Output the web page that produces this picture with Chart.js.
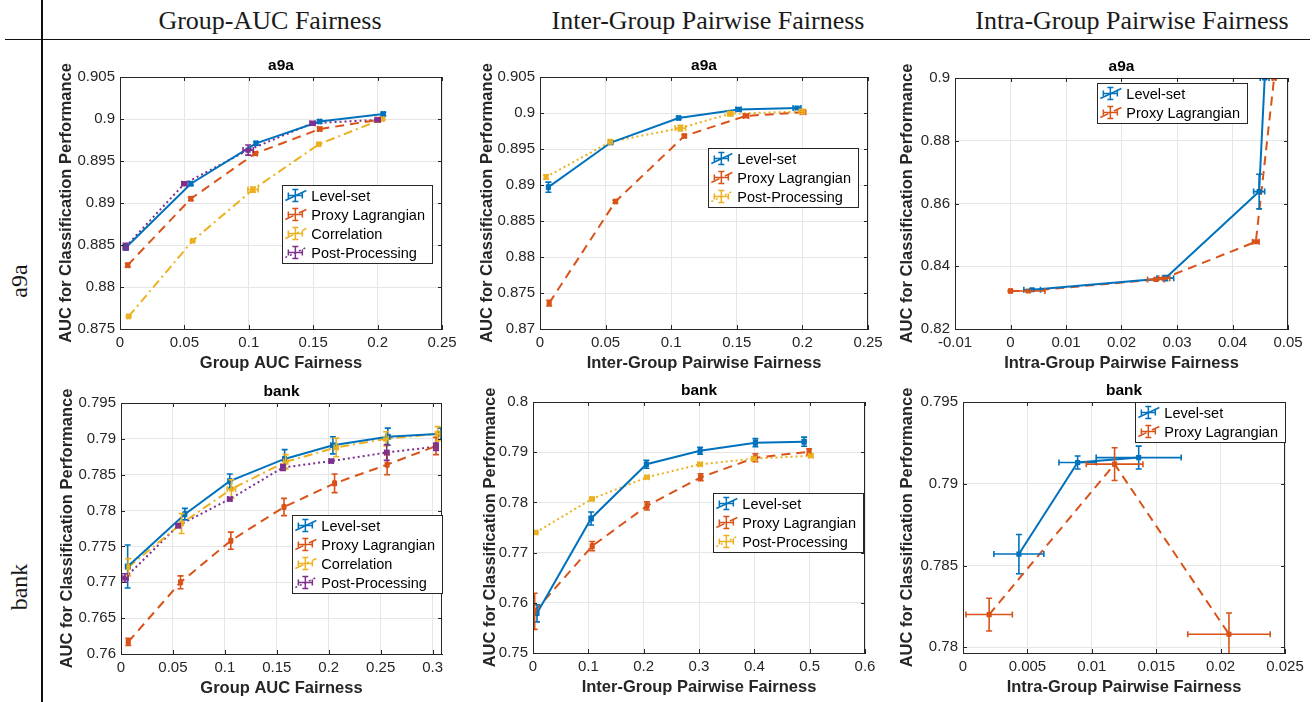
<!DOCTYPE html>
<html>
<head>
<meta charset="utf-8">
<script src="https://cdn.jsdelivr.net/npm/chart.js@4.4.1/dist/chart.umd.min.js"></script>
<style>
  body { margin: 0; background: #fff; width: 1315px; height: 702px; position: relative; overflow: hidden; }
  .head { position: absolute; font-family: "Liberation Serif", "Times New Roman", serif; color: #1a1a1a; white-space: nowrap; line-height: 1; }
  .col { top: 8px; font-size: 26px; transform: translateX(-50%); }
  .row { left: 19px; font-size: 24px; transform: translate(-50%, -50%) rotate(-90deg); }
  .rule { position: absolute; background: #111; }
  canvas { position: absolute; }
</style>
</head>
<body>
<div class="head col" style="left:270px">Group-AUC Fairness</div>
<div class="head col" style="left:708px">Inter-Group Pairwise Fairness</div>
<div class="head col" style="left:1132px">Intra-Group Pairwise Fairness</div>
<div class="head row" style="top:281px">a9a</div>
<div class="head row" style="top:587px">bank</div>
<div class="rule" style="left:5px;top:38.5px;width:1305px;height:1.8px"></div>
<div class="rule" style="left:41px;top:0;width:1.8px;height:702px"></div>

<script>
// each point: [fairness, auc, fairness error, auc error]
const a9aGroupLevel = [[0.0046, 0.8847, 0.001, 0.0003], [0.055, 0.8923, 0.001, 0.0002], [0.1056, 0.8971, 0.001, 0.0002], [0.155, 0.8997, 0.001, 0.0002], [0.2044, 0.9006, 0.001, 0.0002]];
const a9aGroupProxy = [[0.006, 0.8826, 0.001, 0.0002], [0.055, 0.8905, 0.001, 0.0002], [0.105, 0.8959, 0.0015, 0.0002], [0.155, 0.8988, 0.0015, 0.0002], [0.2005, 0.8999, 0.001, 0.0001]];
const a9aGroupCorr = [[0.0067, 0.8765, 0.001, 0.0001], [0.0564, 0.8855, 0.001, 0.0001], [0.1033, 0.8916, 0.004, 0.0003], [0.1544, 0.897, 0.001, 0.0001], [0.2038, 0.9, 0.001, 0.0001]];
const a9aGroupPost = [[0.0044, 0.8848, 0.002, 0.0004], [0.05, 0.8923, 0.002, 0.0002], [0.0995, 0.8963, 0.004, 0.0006], [0.1495, 0.8995, 0.002, 0.0002], [0.2, 0.8999, 0.002, 0.0002]];

const a9aInterLevel = [[0.0064, 0.8897, 0.0008, 0.0007], [0.054, 0.8959, 0.001, 0.0002], [0.1057, 0.8993, 0.001, 0.0002], [0.1513, 0.9005, 0.002, 0.0002], [0.1959, 0.9007, 0.003, 0.0001]];
const a9aInterProxy = [[0.007, 0.8736, 0.0008, 0.0004], [0.0575, 0.8877, 0.0008, 0.0002], [0.11, 0.8968, 0.001, 0.0002], [0.157, 0.8996, 0.002, 0.0001], [0.2005, 0.9001, 0.002, 0.0001]];
const a9aInterPost = [[0.0046, 0.8911, 0.001, 0.0003], [0.0536, 0.896, 0.0015, 0.0003], [0.107, 0.8979, 0.004, 0.0004], [0.145, 0.8999, 0.002, 0.0003], [0.1997, 0.9002, 0.002, 0.0003]];

const a9aIntraLevel = [[0.0039, 0.8325, 0.0015, 0.0003], [0.0279, 0.8362, 0.0015, 0.0008], [0.0448, 0.8638, 0.001, 0.0055], [0.0458, 0.9, 0.0008, 0.0002]];
const a9aIntraProxy = [[0.0, 0.8321, 0.0002, 0.0002], [0.0032, 0.8321, 0.003, 0.0002], [0.0262, 0.8358, 0.0015, 0.0003], [0.0277, 0.8362, 0.001, 0.0003], [0.0442, 0.8478, 0.0006, 0.0003], [0.0475, 0.9, 0.0003, 0.0002]];

const bankGroupLevel = [[0.0064, 0.7722, 0.002, 0.003], [0.0615, 0.7795, 0.001, 0.0008], [0.1047, 0.7841, 0.0015, 0.001], [0.1575, 0.7872, 0.0015, 0.0013], [0.204, 0.7891, 0.002, 0.0012], [0.2568, 0.7903, 0.002, 0.0012], [0.308, 0.7907, 0.002, 0.0008]];
const bankGroupProxy = [[0.007, 0.7617, 0.001, 0.0005], [0.0573, 0.77, 0.001, 0.0009], [0.1057, 0.7758, 0.001, 0.0012], [0.1569, 0.7805, 0.001, 0.0012], [0.2056, 0.7838, 0.001, 0.0013], [0.2562, 0.7864, 0.001, 0.0014], [0.3032, 0.789, 0.001, 0.0012]];
const bankGroupCorr = [[0.007, 0.7721, 0.001, 0.0012], [0.0583, 0.7782, 0.001, 0.0014], [0.1063, 0.783, 0.004, 0.0013], [0.1585, 0.7868, 0.002, 0.001], [0.2072, 0.7888, 0.002, 0.0013], [0.2552, 0.79, 0.002, 0.001], [0.3048, 0.7907, 0.002, 0.001]];
const bankGroupPost = [[0.0038, 0.7706, 0.003, 0.0006], [0.055, 0.7779, 0.002, 0.0003], [0.1047, 0.7816, 0.002, 0.0002], [0.1559, 0.786, 0.002, 0.0004], [0.2024, 0.7869, 0.002, 0.0002], [0.2558, 0.7881, 0.002, 0.0011], [0.3032, 0.7889, 0.002, 0.0005]];

const bankInterLevel = [[0.0072, 0.7579, 0.001, 0.0017], [0.105, 0.7768, 0.003, 0.0013], [0.205, 0.7876, 0.002, 0.0008], [0.302, 0.7903, 0.002, 0.0007], [0.402, 0.7919, 0.003, 0.0008], [0.49, 0.7921, 0.003, 0.0009]];
const bankInterProxy = [[0.003, 0.7583, 0.002, 0.0036], [0.107, 0.7713, 0.002, 0.0009], [0.206, 0.7793, 0.002, 0.0008], [0.303, 0.785, 0.002, 0.0007], [0.402, 0.7889, 0.002, 0.0008], [0.499, 0.7901, 0.002, 0.0006]];
const bankInterPost = [[0.005, 0.774, 0.003, 0.0002], [0.1066, 0.7807, 0.003, 0.0002], [0.206, 0.785, 0.003, 0.0002], [0.302, 0.7876, 0.004, 0.0002], [0.399, 0.7887, 0.004, 0.0003], [0.502, 0.7893, 0.004, 0.0003]];

const bankIntraLevel = [[0.00434, 0.7857, 0.00194, 0.0012], [0.0089, 0.7913, 0.00145, 0.0004], [0.01364, 0.7916, 0.0033, 0.0007]];
const bankIntraProxy = [[0.00203, 0.782, 0.0018, 0.001], [0.01177, 0.7912, 0.0022, 0.001], [0.02065, 0.7808, 0.0032, 0.0013]];

// tick labels
const ticksX025 = [0, 0.05, 0.1, 0.15, 0.2, 0.25];
const ticksXBankGroup = [0, 0.05, 0.1, 0.15, 0.2, 0.25, 0.3];
const ticksXIntraA9a = [-0.01, 0, 0.01, 0.02, 0.03, 0.04, 0.05];
const ticksXBankInter = [0, 0.1, 0.2, 0.3, 0.4, 0.5, 0.6];
const ticksXBankIntra = [0, 0.005, 0.01, 0.015, 0.02, 0.025];
const ticksYA9aGroup = [0.875, 0.88, 0.885, 0.89, 0.895, 0.9, 0.905];
const ticksYA9aInter = [0.87, 0.875, 0.88, 0.885, 0.89, 0.895, 0.9, 0.905];
const ticksYA9aIntra = [0.82, 0.84, 0.86, 0.88, 0.9];
const ticksYBankGroup = [0.76, 0.765, 0.77, 0.775, 0.78, 0.785, 0.79, 0.795];
const ticksYBankInter = [0.75, 0.76, 0.77, 0.78, 0.79, 0.8];
const ticksYBankIntra = [0.78, 0.785, 0.79, 0.795];

const BLUE = 'rgb(0,114,189)', RED = 'rgb(217,83,25)', YELLOW = 'rgb(237,177,32)', PURPLE = 'rgb(126,47,142)';
const SANS = "'Liberation Sans', Arial, Helvetica, sans-serif";
const INK = '#262626';
const TICK_PX = 15, LABEL_PX = 16.5;

const level = d => ({ label: 'Level-set', data: d, color: BLUE, dash: [] });
const proxy = d => ({ label: 'Proxy Lagrangian', data: d, color: RED, dash: [9, 6] });
const corr = d => ({ label: 'Correlation', data: d, color: YELLOW, dash: [9, 4, 2, 4] });
const post = (d, c) => ({ label: 'Post-Processing', data: d, color: c, dash: [2, 3] });

const panels = [
  { rect: [120, 77, 442, 329], yOff: 53, title: 'a9a', xTitle: 'Group AUC Fairness',
    x: [0, 0.25, ticksX025], y: [0.875, 0.905, ticksYA9aGroup], legend: [10, 108],
    series: [level(a9aGroupLevel), proxy(a9aGroupProxy), corr(a9aGroupCorr), post(a9aGroupPost, PURPLE)] },
  { rect: [540, 77, 868, 329], yOff: 52, title: 'a9a', xTitle: 'Inter-Group Pairwise Fairness',
    x: [0, 0.25, ticksX025], y: [0.87, 0.905, ticksYA9aInter], legend: [10, 71],
    series: [level(a9aInterLevel), proxy(a9aInterProxy), post(a9aInterPost, YELLOW)] },
  { rect: [955, 78, 1288, 329], yOff: 47, title: 'a9a', xTitle: 'Intra-Group Pairwise Fairness',
    x: [-0.01, 0.05, ticksXIntraA9a], y: [0.82, 0.9, ticksYA9aIntra], legend: [41, 5],
    series: [level(a9aIntraLevel), proxy(a9aIntraProxy)] },
  { rect: [121, 403, 442, 654], yOff: 53, title: 'bank', xTitle: 'Group AUC Fairness',
    x: [0, 0.309, ticksXBankGroup], y: [0.76, 0.795, ticksYBankGroup], legend: [0, 112],
    series: [level(bankGroupLevel), proxy(bankGroupProxy), corr(bankGroupCorr), post(bankGroupPost, PURPLE)] },
  { rect: [533, 402, 865, 653], yOff: 42, title: 'bank', xTitle: 'Inter-Group Pairwise Fairness',
    x: [0, 0.6, ticksXBankInter], y: [0.75, 0.8, ticksYBankInter], legend: [2, 91],
    series: [level(bankInterLevel), proxy(bankInterProxy), post(bankInterPost, YELLOW)] },
  { rect: [963, 402, 1285, 653], yOff: 55, title: 'bank', xTitle: 'Intra-Group Pairwise Fairness',
    x: [0, 0.025, ticksXBankIntra], y: [0.77965, 0.795, ticksYBankIntra], legend: [0, 0],
    series: [level(bankIntraLevel), proxy(bankIntraProxy)] }
];

const fmt = v => String(+Number(v).toFixed(4));

function crossGlyph(ctx, px, py, x0, x1, y0, y1) {
  ctx.beginPath();
  ctx.moveTo(px, y0); ctx.lineTo(px, y1);
  ctx.moveTo(px - 3, y0); ctx.lineTo(px + 3, y0);
  ctx.moveTo(px - 3, y1); ctx.lineTo(px + 3, y1);
  ctx.moveTo(x0, py); ctx.lineTo(x1, py);
  ctx.moveTo(x0, py - 3); ctx.lineTo(x0, py + 3);
  ctx.moveTo(x1, py - 3); ctx.lineTo(x1, py + 3);
  ctx.stroke();
}

const errorBars = {
  id: 'errorBars',
  afterDatasetsDraw(chart) {
    const { ctx, chartArea: a, scales: { x, y } } = chart;
    ctx.save();
    ctx.beginPath(); ctx.rect(a.left, a.top, a.width, a.height); ctx.clip();
    ctx.setLineDash([]);
    ctx.lineWidth = 1.6;
    chart.data.datasets.forEach(ds => {
      ctx.strokeStyle = ds.borderColor;
      ds.data.forEach(p => {
        crossGlyph(ctx, x.getPixelForValue(p.x), y.getPixelForValue(p.y),
          x.getPixelForValue(p.x - p.ex), x.getPixelForValue(p.x + p.ex),
          y.getPixelForValue(p.y - p.ey), y.getPixelForValue(p.y + p.ey));
      });
    });
    ctx.restore();
  }
};

const frame = {
  id: 'frame',
  afterDraw(chart, args, opts) {
    const { ctx, chartArea: a, scales: { x, y } } = chart;
    ctx.save();
    ctx.strokeStyle = INK; ctx.lineWidth = 1; ctx.setLineDash([]);
    ctx.strokeRect(a.left + 0.5, a.top + 0.5, a.width - 1, a.height);
    ctx.beginPath();
    x.ticks.forEach(t => {
      const px = Math.round(x.getPixelForValue(t.value)) + 0.5;
      ctx.moveTo(px, a.bottom); ctx.lineTo(px, a.bottom - 4);
      ctx.moveTo(px, a.top); ctx.lineTo(px, a.top + 4);
    });
    y.ticks.forEach(t => {
      const py = Math.round(y.getPixelForValue(t.value)) + 0.5;
      ctx.moveTo(a.left, py); ctx.lineTo(a.left + 4, py);
      ctx.moveTo(a.right, py); ctx.lineTo(a.right - 4, py);
    });
    ctx.stroke();

    // subplot title
    ctx.fillStyle = '#000';
    ctx.font = 'bold 15.5px ' + SANS;
    ctx.textAlign = 'center'; ctx.textBaseline = 'middle';
    ctx.fillText(opts.title, (a.left + a.right) / 2, a.top - 11);

    // legend box
    ctx.font = '14.5px ' + SANS;
    const sets = chart.data.datasets;
    const tw = Math.max(...sets.map(d => ctx.measureText(d.label).width));
    const rowH = 19, w = 30 + tw + 6, h = sets.length * rowH + 2;
    const lx = a.right - opts.legend[0] - w, ly = a.top + opts.legend[1];
    ctx.fillStyle = '#fff';
    ctx.fillRect(lx, ly, w, h);
    ctx.strokeStyle = INK;
    ctx.strokeRect(Math.round(lx) + 0.5, Math.round(ly) + 0.5, Math.round(w), Math.round(h));
    sets.forEach((d, i) => {
      const cy = ly + 1 + rowH * (i + 0.5);
      ctx.strokeStyle = d.borderColor;
      ctx.lineWidth = 1.5;
      ctx.setLineDash(d.borderDash);
      ctx.beginPath(); ctx.moveTo(lx + 3, cy + 5); ctx.lineTo(lx + 24, cy - 5); ctx.stroke();
      ctx.setLineDash([]);
      crossGlyph(ctx, lx + 13, cy, lx + 6, lx + 20, cy - 6, cy + 6);
      ctx.fillStyle = '#000';
      ctx.textAlign = 'left';
      ctx.fillText(d.label, lx + 29, cy + 1);
    });
    ctx.restore();
  }
};

panels.forEach(p => {
  const [l, t, r, b] = p.rect;
  const yW = p.yOff + 10;
  const padTop = 28, xH = 46, padRight = 24;
  const cv = document.createElement('canvas');
  cv.width = (r - l) + yW + padRight;
  cv.height = (b - t) + padTop + xH;
  cv.style.left = (l - yW) + 'px';
  cv.style.top = (t - padTop) + 'px';
  document.body.appendChild(cv);

  new Chart(cv, {
    type: 'line',
    data: {
      datasets: p.series.map(s => ({
        label: s.label,
        data: s.data.map(([x, y, ex, ey]) => ({ x, y, ex, ey })),
        borderColor: s.color,
        backgroundColor: s.color,
        borderDash: s.dash,
        borderWidth: 2,
        pointStyle: 'rect',
        pointRadius: 2.2,
        tension: 0
      }))
    },
    options: {
      responsive: false,
      animation: false,
      layout: { padding: { top: padTop, right: padRight, left: 0, bottom: 0 } },
      plugins: {
        legend: { display: false },
        tooltip: { enabled: false },
        frame: { title: p.title, legend: p.legend }
      },
      scales: {
        x: {
          type: 'linear', min: p.x[0], max: p.x[1],
          afterBuildTicks: s => { s.ticks = p.x[2].map(v => ({ value: v })); },
          afterFit: s => { s.height = xH; },
          grid: { color: '#e6e6e6', drawTicks: false },
          border: { color: INK },
          ticks: { font: { family: SANS, size: TICK_PX }, color: INK, padding: 5, maxRotation: 0, autoSkip: false, callback: fmt },
          title: { display: true, text: p.xTitle, color: INK, font: { family: SANS, size: LABEL_PX, weight: 'bold' }, padding: { top: 0, bottom: 2 } }
        },
        y: {
          type: 'linear', min: p.y[0], max: p.y[1],
          afterBuildTicks: s => { s.ticks = p.y[2].map(v => ({ value: v })); },
          afterFit: s => { s.width = yW; },
          grid: { color: '#e6e6e6', drawTicks: false },
          border: { color: INK },
          ticks: { font: { family: SANS, size: TICK_PX }, color: INK, padding: 5, autoSkip: false, callback: fmt },
          title: { display: true, text: 'AUC for Classification Performance', color: INK, font: { family: SANS, size: LABEL_PX, weight: 'bold' }, padding: { top: 0, bottom: 0 } }
        }
      }
    },
    plugins: [errorBars, frame]
  });
});
</script>
</body>
</html>
